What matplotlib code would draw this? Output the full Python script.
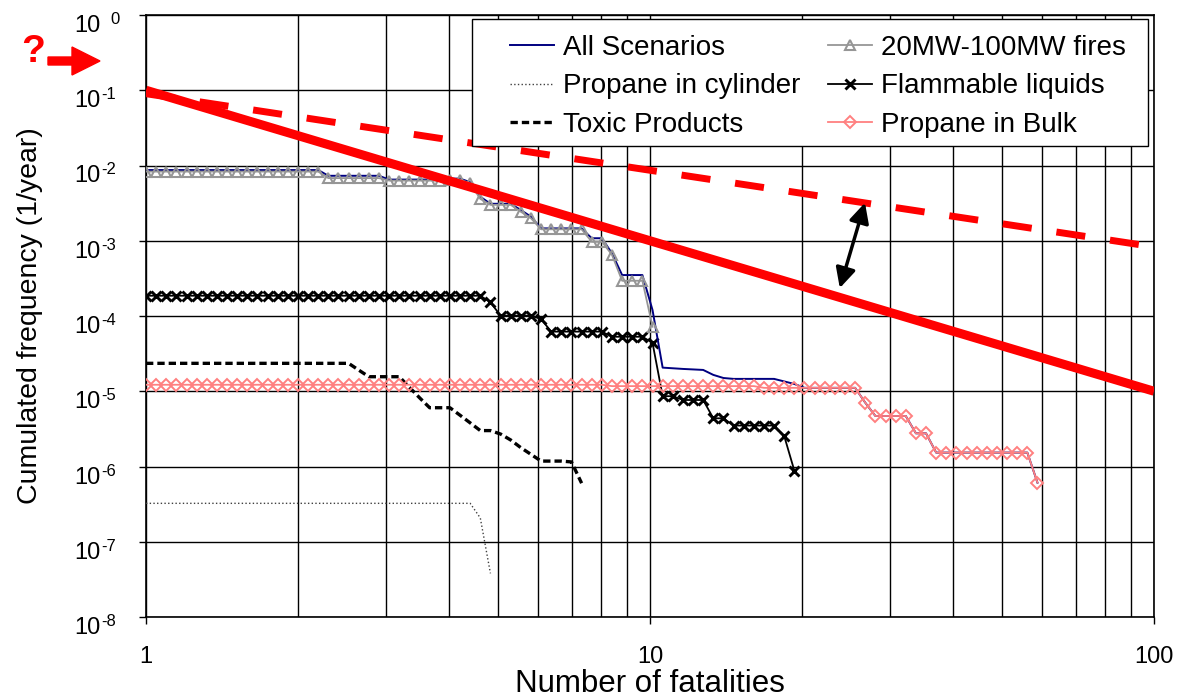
import numpy as np
import matplotlib
matplotlib.use("Agg")
import matplotlib.pyplot as plt
from matplotlib.ticker import LogLocator, NullFormatter, FixedLocator
from matplotlib.patches import FancyArrow, Rectangle
from matplotlib.transforms import IdentityTransform, blended_transform_factory, ScaledTranslation

plt.rcParams['font.family'] = ['Liberation Sans', 'DejaVu Sans']

grid_step = 0.0201

# cumulated frequencies (1/year), one value per grid point
fires = ([8.3e-3] * 18 + [6.8e-3] * 6 + [6.3e-3] * 6 + [6.5e-3] * 2 + [5.8e-3]
         + [3.6e-3] + [3.0e-3] * 3 + [2.43e-3] + [1.99e-3] + [1.42e-3] * 5
         + [9.7e-4] * 2 + [6.5e-4] + [2.94e-4] * 3 + [7.2e-5])

bulk = ([1.22e-5] * 46 + [1.17e-5] * 15 + [1.11e-5] * 10 + [7.05e-6]
        + [4.69e-6] * 4 + [2.76e-6] * 2 + [1.53e-6] * 10 + [6.1e-7])

all_head = ([8.7e-3] * 18 + [7.3e-3] * 6 + [6.5e-3] * 6 + [6.7e-3] * 2 + [6.0e-3]
            + [3.85e-3] + [3.1e-3] * 3 + [2.56e-3] + [2.09e-3] + [1.46e-3] * 5
            + [1.08e-3] * 2 + [6.8e-4] + [3.5e-4] * 3 + [1.2e-4]
            + [2.06e-5, 2.02e-5, 1.98e-5, 1.95e-5, 1.92e-5, 1.65e-5, 1.5e-5]
            + [1.46e-5] * 5 + [1.35e-5, 1.25e-5])
all_scen = all_head + bulk[len(all_head):]

flammable = ([1.86e-4] * 34 + [1.52e-4] + [1.01e-4] * 4 + [9.1e-5] + [6.2e-5] * 6
             + [5.3e-5] * 4 + [4.4e-5] + [8.6e-6] * 2 + [7.65e-6] * 3
             + [4.37e-6] * 2 + [3.5e-6] * 5 + [2.54e-6] + [8.8e-7])

toxic = ([2.35e-5] * 21 + [1.91e-5] + [1.56e-5] * 4 + [1.13e-5, 8.2e-6]
         + [6.04e-6] * 3 + [4.8e-6, 3.8e-6] + [3.0e-6] * 2
         + [2.7e-6, 2.25e-6, 1.78e-6, 1.45e-6] + [1.18e-6] * 3 + [1.15e-6] + [6.0e-7])

cylinder = [3.24e-7] * 33 + [2.07e-7] + [3.8e-8]

# criterion lines
crit_n = [1, 100]
crit_solid = [1e-1, 1e-5]
crit_dashed = [9.0e-2, 8.3e-4]

y_exps = list(range(-8, 1))
x_ticks = [1, 10, 100]


def fat(vals):
    return 10 ** (grid_step * np.arange(len(vals)))


fig = plt.figure(figsize=(11.84, 6.97), dpi=100)
ax = fig.add_axes([146 / 1184, 1 - 617 / 697, 1008 / 1184, 602 / 697])
ax.set_xscale('log')
ax.set_yscale('log')
ax.set_xlim(1, 100)
ax.set_ylim(1e-8, 1)

ax.plot(fat(cylinder), cylinder, ':', color='#404040', lw=1.0, label='Propane in cylinder', zorder=3)
ax.plot(fat(toxic), toxic, color='black', lw=2.4, dashes=(2.2, 1.2), label='Toxic Products', zorder=3)
ax.plot(fat(flammable), flammable, color='black', lw=1.3, marker='x', ms=7.5, mew=2.1,
        label='Flammable liquids', zorder=4)
ax.plot(fat(all_scen), all_scen, color='#000080', lw=1.4, label='All Scenarios', zorder=4)
ax.plot(fat(fires), fires, color='#969696', lw=1.3, marker='^', ms=7, mew=1.5,
        mfc='none', label='20MW-100MW fires', zorder=5)
ax.plot(fat(bulk), bulk, color='#FF8080', lw=1.3, marker='D', ms=6, mew=1.4,
        mfc='none', label='Propane in Bulk', zorder=5)

ax.plot(crit_n, crit_solid, color='red', lw=6.5, solid_capstyle='butt', zorder=6)
ax.plot(crit_n, crit_dashed, color='red', lw=5.0, dashes=(4.2, 3.6), zorder=6)

ax.annotate('', xy=(23.8, 2.35e-4), xytext=(26.7, 3.2e-3),
            arrowprops=dict(arrowstyle='<|-|>,head_length=0.6,head_width=0.3',
                            color='black', lw=2.5, mutation_scale=20,
                            shrinkA=0, shrinkB=0), zorder=7)

ax.xaxis.set_major_locator(FixedLocator(x_ticks))
ax.xaxis.set_minor_locator(LogLocator(base=10, subs=np.arange(2, 10)))
ax.xaxis.set_minor_formatter(NullFormatter())
ax.set_xticklabels([str(v) for v in x_ticks])
ax.yaxis.set_major_locator(FixedLocator([10.0 ** p for p in y_exps]))
ax.yaxis.set_minor_locator(FixedLocator([]))
ax.set_yticklabels([])

ax.grid(True, which='major', color='black', lw=1.0)
ax.grid(True, which='minor', axis='x', color='black', lw=1.0)
ax.tick_params(which='major', direction='out', length=5, width=1)
ax.tick_params(axis='x', labelsize=17, pad=16)
ax.tick_params(which='minor', length=0)
for s in ax.spines.values():
    s.set_linewidth(1.2)
    s.set_color('black')

# Excel-style y tick labels: "10" with a small raised exponent, hanging below the gridline
ytr = blended_transform_factory(ax.transAxes, ax.transData)
for p in y_exps:
    base_off = ScaledTranslation(-46 / 100, -17 / 100, fig.dpi_scale_trans)
    exp_off = ScaledTranslation((-45 if p < 0 else -36) / 100, -9 / 100, fig.dpi_scale_trans)
    ax.text(0, 10.0 ** p, '10', fontsize=17, ha='right', va='baseline',
            transform=ytr + base_off, clip_on=False)
    ax.text(0, 10.0 ** p, '%d' % p, fontsize=12, ha='left', va='baseline',
            transform=ytr + exp_off, clip_on=False)

ax.set_xlabel('Number of fatalities', fontsize=22.5, va='top')
ax.xaxis.set_label_coords(0.5, -0.086)
ax.set_ylabel('Cumulated frequency (1/year)', fontsize=20.5)
ax.yaxis.set_label_coords(-0.102, 0.5)

# legend: entries placed inside a separate square frame (wide left margin)
frame = Rectangle((0.3234, 0.7824), 0.994 - 0.3234, 0.9934 - 0.7824, transform=ax.transAxes,
                  facecolor='white', edgecolor='black', lw=1.0, zorder=9)
ax.add_patch(frame)
h, l = ax.get_legend_handles_labels()
order = ['All Scenarios', 'Propane in cylinder', 'Toxic Products',
         '20MW-100MW fires', 'Flammable liquids', 'Propane in Bulk']
hh = [h[l.index(o)] for o in order]
leg = ax.legend(hh, order, ncol=2, loc='upper left', bbox_to_anchor=(0.3611, 0.9665),
                borderaxespad=0, borderpad=0, fontsize=20, frameon=False,
                handlelength=1.6, handletextpad=0.3, columnspacing=1.0, labelspacing=0.44)
leg.set_zorder(10)

# red question mark and arrow outside the axes
fig.text(33 / 1184, 1 - 52 / 697, '?', color='red', fontsize=28, fontweight='bold',
         ha='center', va='center')
fig.add_artist(FancyArrow(48, 697 - 61, 52, 0, width=8, head_width=28, head_length=28,
                          length_includes_head=True, color='red',
                          transform=IdentityTransform()))

fig.savefig('out.png', dpi=100)
